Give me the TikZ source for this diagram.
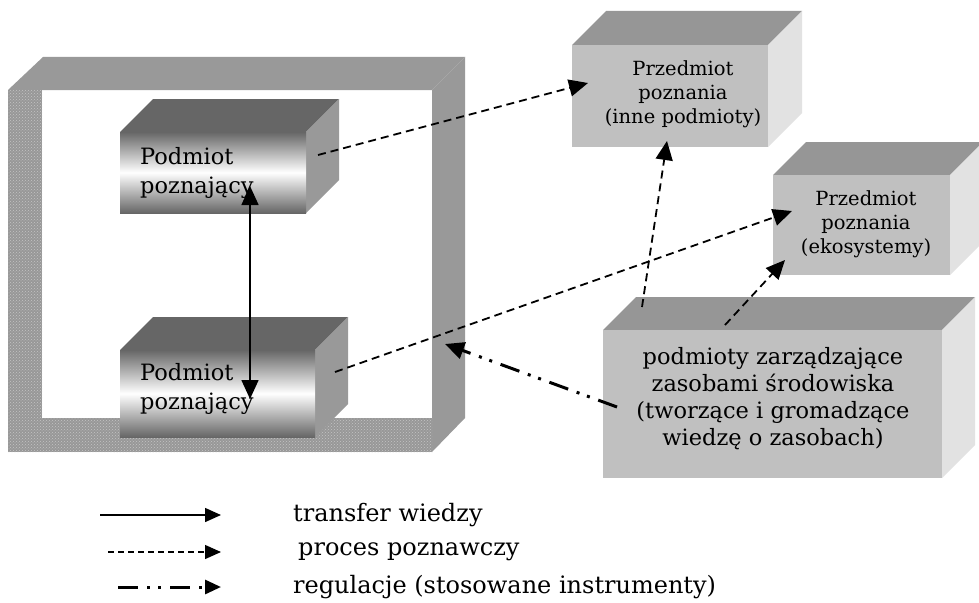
\documentclass[tikz,border=0pt]{standalone}
\usepackage{fontspec}
\setmainfont{DejaVu Serif}
\usetikzlibrary{arrows.meta,patterns}

\definecolor{framegrey}{HTML}{999999}
\definecolor{stipple}{HTML}{989898}
\definecolor{stippledot}{HTML}{C4C4C4}
\definecolor{darktop}{HTML}{666666}
\definecolor{darkside}{HTML}{999999}
\definecolor{lightfront}{HTML}{C0C0C0}
\definecolor{lighttop}{HTML}{969696}
\definecolor{lightside}{HTML}{E2E2E2}

\tikzset{
  bigtip/.tip={Triangle[length=19pt,width=17pt]},
  smalltip/.tip={Triangle[length=16pt,width=14pt]},
  cognition/.style={line width=1.8pt, dash pattern=on 8pt off 5pt, -bigtip},
  transfer/.style={line width=1.6pt, bigtip-bigtip},
  regulation/.style={line width=3pt, dash pattern=on 20pt off 9pt on 3pt off 8pt on 3pt off 9pt, -bigtip},
  subjtext/.style={anchor=west, align=left, inner sep=0pt, font=\fontsize{22.5}{29}\selectfont},
  objtext/.style={align=center, inner sep=0pt, font=\fontsize{19.5}{24}\selectfont},
  mgmttext/.style={align=center, inner sep=0pt, font=\fontsize{22.5}{27}\selectfont},
  legendtext/.style={anchor=west, inner sep=0pt, font=\fontsize{24}{28}\selectfont},
}

% solid block: front face corners (#1,#2)-(#3,#4), depth #5, front style #6, top colour #7, side colour #8
\newcommand\solidblock[8]{%
  \fill[#7] (#1,#2) -- ++(#5,-#5) -- (#3+#5,#2-#5) -- (#3,#2) -- cycle;
  \fill[#8] (#3,#2) -- (#3+#5,#2-#5) -- (#3+#5,#4-#5) -- (#3,#4) -- cycle;
  \path[#6] (#1,#2) rectangle (#3,#4);
}

\begin{document}
\begin{tikzpicture}[x=1pt,y=-1pt]
\useasboundingbox (0,0) rectangle (979,602);
\fill[white] (0,0) rectangle (979,602);

% outer frame (the organisation)
\fill[framegrey] (8,90) -- (43,57) -- (465,57) -- (432,90) -- cycle;
\fill[framegrey] (432,90) -- (465,57) -- (465,418) -- (432,452) -- cycle;
\fill[stipple] (8,90) rectangle (42,452);
\fill[stipple] (8,418) rectangle (432,452);
\fill[pattern=crosshatch dots, pattern color=stippledot] (8,90) rectangle (42,452);
\fill[pattern=crosshatch dots, pattern color=stippledot] (42,418) rectangle (432,452);

% knowing subjects
\solidblock{120}{132}{306}{213}{33}{shade, top color=darktop, bottom color=darktop, middle color=white}{darktop}{darkside}
\solidblock{120}{350}{315}{437}{33}{shade, top color=darktop, bottom color=darktop, middle color=white}{darktop}{darkside}
\node[subjtext] (subjA) at (140,172.5) {Podmiot\\poznający};
\node[subjtext] (subjB) at (140,389) {Podmiot\\poznający};

% objects of cognition
\solidblock{572}{45}{768}{147}{34}{fill=lightfront}{lighttop}{lightside}
\solidblock{773}{175}{950}{275}{33}{fill=lightfront}{lighttop}{lightside}
\node[objtext] (objA) at (683,94) {Przedmiot\\poznania\\(inne podmioty)};
\node[objtext] (objB) at (866,224) {Przedmiot\\poznania\\(ekosystemy)};

% resource managers
\solidblock{603}{330}{942}{478}{33}{fill=lightfront}{lighttop}{lightside}
\node[mgmttext] (mgmt) at (773,399) {podmioty zarządzające\\zasobami środowiska\\(tworzące i gromadzące\\wiedzę o zasobach)};

% connector end points
\coordinate (subjAout) at (318,155);
\coordinate (subjBout) at (335,372);
\coordinate (objAin) at (588,83);
\coordinate (objAbot) at (667,141);
\coordinate (objBin) at (792,211);
\coordinate (objBbot) at (785,260);
\coordinate (mgmtA) at (642,307);
\coordinate (mgmtB) at (725,325);
\coordinate (mgmtL) at (617,407);
\coordinate (frameR) at (445,344);
\coordinate (subjAbot) at (250,186);
\coordinate (subjBtop) at (250,399);

\draw[cognition] (subjAout) -- (objAin);
\draw[cognition] (subjBout) -- (objBin);
\draw[cognition] (mgmtA) -- (objAbot);
\draw[cognition] (mgmtB) -- (objBbot);
\draw[regulation] (mgmtL) -- (frameR);
\draw[transfer] (subjAbot) -- (subjBtop);

% legend
\coordinate (lgA0) at (100,515); \coordinate (lgA1) at (221,515);
\coordinate (lgB0) at (108,552); \coordinate (lgB1) at (221,552);
\coordinate (lgC0) at (118,587); \coordinate (lgC1) at (221,587);
\draw[line width=1.5pt, -smalltip] (lgA0) -- (lgA1);
\draw[line width=1.3pt, dash pattern=on 6pt off 4pt, -smalltip] (lgB0) -- (lgB1);
\draw[line width=3pt, dash pattern=on 20pt off 9pt on 3pt off 8pt on 3pt off 9pt, -smalltip] (lgC0) -- (lgC1);
\node[legendtext] (lgAtext) at (293,515) {transfer wiedzy};
\node[legendtext] (lgBtext) at (298,552) {proces poznawczy};
\node[legendtext] (lgCtext) at (293,587) {regulacje (stosowane instrumenty)};
\end{tikzpicture}
\end{document}
